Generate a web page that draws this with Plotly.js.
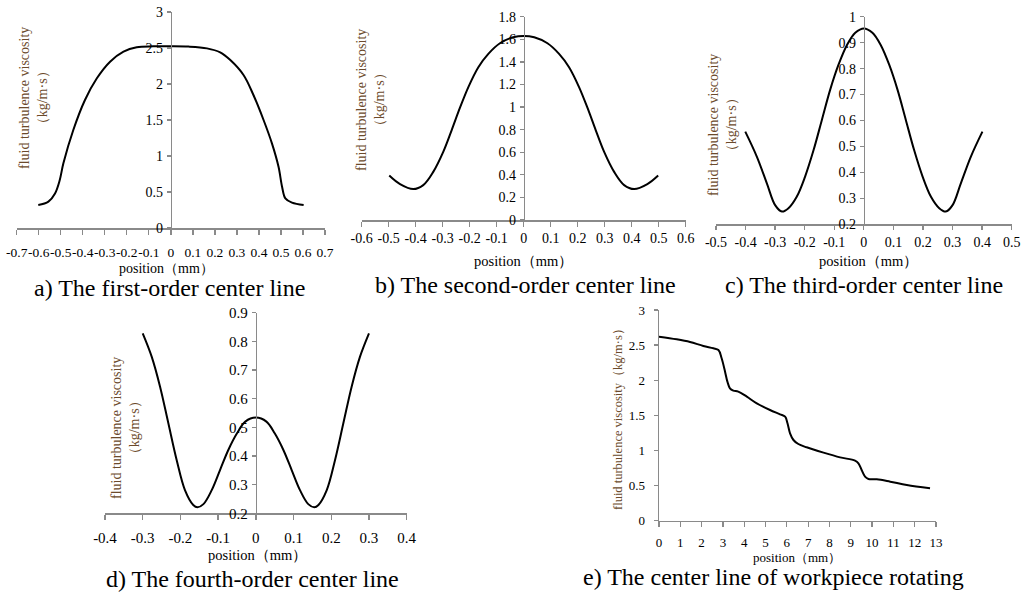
<!DOCTYPE html>
<html>
<head>
<meta charset="utf-8">
<script src="https://cdn.plot.ly/plotly-3.0.1.min.js"></script>
<style>html,body{margin:0;padding:0;background:#fff;}#chart{width:1029px;height:593px;}</style>
</head>
<body>
<div id="chart"></div>
<script>
// ---- data ----
const aX = [-0.602,-0.556,-0.526,-0.505,-0.488,-0.443,-0.39,-0.336,-0.276,-0.215,-0.155,-0.08,0,0.08,0.164,0.224,0.27,0.33,0.375,0.421,0.459,0.489,0.505,0.52,0.55,0.603];
const aY = [0.319,0.366,0.48,0.66,0.898,1.361,1.778,2.079,2.31,2.449,2.51,2.523,2.525,2.52,2.495,2.44,2.333,2.125,1.847,1.5,1.176,0.851,0.574,0.412,0.352,0.319];

const bX = [-0.498,-0.458,-0.409,-0.372,-0.335,-0.298,-0.267,-0.236,-0.205,-0.168,-0.131,-0.088,-0.039,0,0.039,0.088,0.131,0.168,0.205,0.236,0.267,0.298,0.335,0.372,0.409,0.458,0.498];
const bY = [0.394,0.318,0.274,0.309,0.426,0.603,0.794,0.994,1.177,1.353,1.471,1.565,1.618,1.63,1.618,1.565,1.471,1.353,1.177,0.994,0.794,0.603,0.426,0.309,0.274,0.318,0.394];

const cX = [-0.401,-0.362,-0.328,-0.3,-0.277,-0.255,-0.227,-0.199,-0.17,-0.142,-0.114,-0.086,-0.057,-0.029,0,0.029,0.057,0.086,0.114,0.142,0.17,0.199,0.227,0.255,0.277,0.3,0.328,0.362,0.401];
const cY = [0.557,0.461,0.358,0.274,0.249,0.262,0.306,0.383,0.486,0.602,0.718,0.814,0.891,0.938,0.955,0.938,0.891,0.814,0.718,0.602,0.486,0.383,0.306,0.262,0.249,0.274,0.358,0.461,0.557];

const dX = [-0.3,-0.276,-0.254,-0.232,-0.21,-0.188,-0.166,-0.155,-0.139,-0.117,-0.095,-0.073,-0.05,-0.028,0,0.028,0.05,0.073,0.095,0.117,0.139,0.155,0.166,0.188,0.21,0.232,0.254,0.276,0.3];
const dY = [0.828,0.746,0.642,0.514,0.386,0.281,0.229,0.221,0.232,0.281,0.351,0.421,0.479,0.52,0.534,0.52,0.479,0.421,0.351,0.281,0.232,0.221,0.229,0.281,0.386,0.514,0.642,0.746,0.828];

const eX = [0,0.83,1.455,2.08,2.55,2.79,2.94,3.10,3.21,3.33,3.49,3.72,4.12,4.59,5.21,5.68,5.92,6.03,6.15,6.31,6.54,6.93,7.72,8.50,9.20,9.36,9.51,9.67,9.83,10.22,10.85,11.63,12.72];
const eY = [2.621,2.583,2.545,2.488,2.455,2.431,2.312,2.122,1.98,1.885,1.852,1.838,1.766,1.671,1.576,1.515,1.481,1.387,1.244,1.149,1.092,1.045,0.969,0.902,0.855,0.817,0.722,0.627,0.594,0.589,0.556,0.508,0.461];

// tick values and labels
const aXTicks = [-0.7,-0.6,-0.5,-0.4,-0.3,-0.2,-0.1,0,0.1,0.2,0.3,0.4,0.5,0.6,0.7];
const bXTicks = [-0.6,-0.5,-0.4,-0.3,-0.2,-0.1,0,0.1,0.2,0.3,0.4,0.5,0.6];
const cXTicks = [-0.5,-0.4,-0.3,-0.2,-0.1,0,0.1,0.2,0.3,0.4,0.5];
const dXTicks = [-0.4,-0.3,-0.2,-0.1,0,0.1,0.2,0.3,0.4];
const eXTicks = [0,1,2,3,4,5,6,7,8,9,10,11,12,13];
const lbl = v => String(v);

const captions = ['a) The first-order center line','b) The second-order center line','c) The third-order center line','d) The fourth-order center line','e) The center line of workpiece rotating'];
const xTitle = 'position（mm）';
const yTitle2 = 'fluid turbulence viscosity<br>（kg/m·s）';
const yTitle1 = 'fluid turbulence viscosity（kg/m·s）';

// ---- layout helpers ----
const W = 1029, H = 593;
const px = x => x / W;
const py = y => 1 - y / H;
const SERIF = 'Liberation Serif, Times New Roman, serif';
const AXC = '#8a8a8a';
const TITLEC = '#6b4a2b';

const line = {color:'#000', width:2, shape:'spline', smoothing:1};
const traces = [
  {x:aX, y:aY, xaxis:'x', yaxis:'y', mode:'lines', line:line},
  {x:bX, y:bY, xaxis:'x2', yaxis:'y2', mode:'lines', line:line},
  {x:cX, y:cY, xaxis:'x3', yaxis:'y3', mode:'lines', line:line},
  {x:dX, y:dY, xaxis:'x4', yaxis:'y4', mode:'lines', line:line},
  {x:eX, y:eY, xaxis:'x5', yaxis:'y5', mode:'lines', line:line}
];

function xa(domain, range, ticks, anchor, fs, standoff){
  return {domain:domain, range:range, anchor:anchor, tickmode:'array', tickvals:ticks, ticktext:ticks.map(lbl),
    tickangle:0, showline:true, linecolor:AXC, linewidth:1.5, ticks:'outside', ticklen:5, tickwidth:1.3, tickcolor:AXC,
    showgrid:false, zeroline:false, ticklabelstandoff:standoff, tickfont:{family:SERIF, size:fs, color:'#000'}, fixedrange:true};
}
function ya(domain, range, dtick, pos, fs, standoff){
  const o = {domain:domain, range:range, tick0:range[0], dtick:dtick, tickmode:'linear',
    showline:true, linecolor:AXC, linewidth:1.5, ticks:'outside', ticklen:4, tickwidth:1.3, tickcolor:AXC,
    showgrid:false, zeroline:false, ticklabelstandoff:standoff, tickfont:{family:SERIF, size:fs, color:'#000'}, fixedrange:true};
  if (pos !== null) { o.anchor = 'free'; o.position = pos; }
  return o;
}

const layout = {
  width:W, height:H, autosize:false, showlegend:false,
  margin:{l:0, r:0, t:0, b:0, pad:0},
  paper_bgcolor:'#fff', plot_bgcolor:'rgba(0,0,0,0)',
  xaxis:  xa([px(16.7), px(325)],  [-0.7,0.7], aXTicks, 'y', 13.5, 6),
  yaxis:  ya([py(228), py(12)],   [0,3], 0.5, px(170.7), 14, 1),
  xaxis2: xa([px(361.7), px(685.7)], [-0.6,0.6], bXTicks, 'y2', 14, 0),
  yaxis2: ya([py(220), py(16.7)],  [0,1.8], 0.2, px(523.7), 14, 1),
  xaxis3: xa([px(716), px(1011.7)], [-0.5,0.5], cXTicks, 'y3', 14, 0),
  yaxis3: ya([py(224.3), py(16.7)], [0.2,1], 0.1, px(863.7), 14, 1),
  xaxis4: xa([px(105), px(406.7)], [-0.4,0.4], dXTicks, 'y4', 15, 5),
  yaxis4: ya([py(513.3), py(312.7)], [0.2,0.9], 0.1, px(255.7), 15, 1),
  xaxis5: xa([px(659), px(936)], [0,13], eXTicks, 'y5', 13, 4),
  yaxis5: Object.assign(ya([py(520.7), py(310)], [0,3], 0.5, null, 13, 6), {anchor:'x5'}),
  annotations: []
};
layout.xaxis3.ticklen = 4;

function ann(x, y, text, size, color, angle){
  layout.annotations.push({xref:'paper', yref:'paper', x:px(x), y:py(y), text:text, showarrow:false,
    xanchor:'center', yanchor:'middle', textangle:angle||0, font:{family:SERIF, size:size, color:color}});
}
// y titles
ann(34, 98, yTitle2, 14, TITLEC, -90);
ann(370, 100, yTitle2, 14, TITLEC, -90);
ann(723, 125, yTitle2, 14, TITLEC, -90);
ann(125, 428, yTitle2, 14, TITLEC, -90);
ann(618, 416, yTitle1, 12.5, TITLEC, -90);
// x titles
ann(166, 268, xTitle, 14, '#000');
ann(523, 261, xTitle, 14.5, '#000');
ann(868, 261, xTitle, 14.5, '#000');
ann(257, 555, xTitle, 14.5, '#000');
ann(797, 557, xTitle, 13, '#000');
// captions
ann(169, 288, captions[0], 24, '#000');
ann(525, 285, captions[1], 24, '#000');
ann(864, 285, captions[2], 24, '#000');
ann(252, 579, captions[3], 24, '#000');
ann(773, 577, captions[4], 24, '#000');

Plotly.newPlot('chart', traces, layout, {displayModeBar:false, staticPlot:true});
</script>
</body>
</html>
